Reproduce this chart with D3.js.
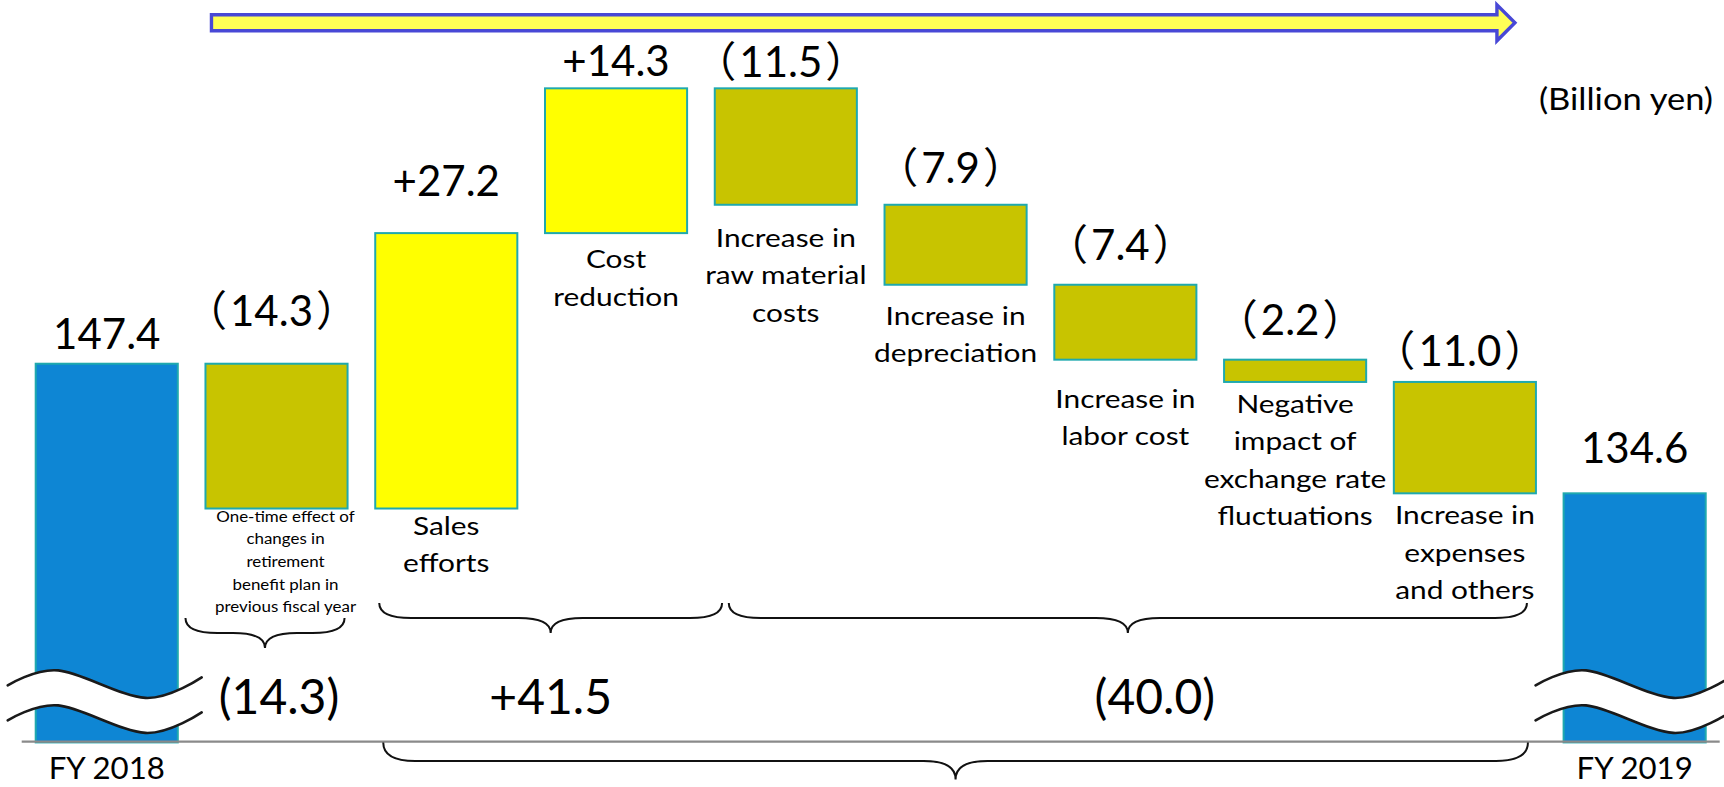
<!DOCTYPE html>
<html>
<head>
<meta charset="utf-8">
<script src="https://cdn.jsdelivr.net/npm/d3@7"></script>
<style>
  html, body { margin: 0; padding: 0; background: #ffffff; }
  svg { display: block; }
  text { font-family: Lato, "Noto Sans CJK JP", sans-serif; fill: #000; }
</style>
</head>
<body>
<svg id="chart" width="1724" height="787"></svg>
<script>
// Operating income bridge from FY 2018 to FY 2019 (billion yen)

const categories = ["fy2018", "retirement", "sales", "cost", "raw", "depreciation", "labor", "fx", "expenses", "fy2019"];
const categoryLines = [
  ["FY 2018"],
  ["One-time effect of", "changes in", "retirement", "benefit plan in", "previous fiscal year"],
  ["Sales", "efforts"],
  ["Cost", "reduction"],
  ["Increase in", "raw material", "costs"],
  ["Increase in", "depreciation"],
  ["Increase in", "labor cost"],
  ["Negative", "impact of", "exchange rate", "fluctuations"],
  ["Increase in", "expenses", "and others"],
  ["FY 2019"]
];
const barKinds = ["total", "delta", "delta", "delta", "delta", "delta", "delta", "delta", "delta", "total"];
const values   = [147.4, -14.3, 27.2, 14.3, -11.5, -7.9, -7.4, -2.2, -11.0, 134.6];

// Bracketed groups of factors (first and last category index)
const groupFirst = [1, 2, 4];
const groupLast  = [1, 3, 8];

const unitLabel = "(Billion yen)";
const axisFloor = 110;   // value where the broken axis meets the baseline

// ---- layout ----
const W = 1724, H = 787;
const valueLift = [15, 38, 37, 12, 11, 22, 25, 25, 16, 30];   // gap between bar top and value label
const nameDrop  = [37, 13, 26, 35, 42, 40, 48, 31, 31, 37];   // gap between bar bottom and first name line
const braceTop   = [618, 603, 603];
const braceInset = [[-20, -3], [4, 35], [14, -9]];              // brace ends relative to the bracketed bars
const groupShift = [14, 0, 27];                                 // group total label offset from the brace tip
const colors = { total: "#0e86d4", up: "#ffff00", down: "#c8c400", edge: "#1fa9ae" };

const svg = d3.select("#chart");

const x = d3.scaleBand().domain(categories).range([35.7, 1705.7]).paddingInner(0.163).paddingOuter(0);
const y = d3.scaleLinear().domain([axisFloor, 180]).range([742.4, 33.65]);
const bw = x.bandwidth();

// running totals for the waterfall
let run = 0;
const bars = categories.map((c, i) => {
  let lo, hi;
  if (barKinds[i] === "total") { lo = axisFloor; hi = values[i]; run = values[i]; }
  else { const s = run; run = run + values[i]; lo = Math.min(s, run); hi = Math.max(s, run); }
  return { c, i, lo, hi, v: values[i], kind: barKinds[i] };
});

const fmt = d3.format(".1f");

// ---- top arrow ----
{
  const xs = x(categories[1]) + 6, xe = x(categories[8]) + bw - 21;
  const hb = xe - 18, cy = 22.8;
  const pts = [[xs, cy - 8], [hb, cy - 8], [hb, cy - 18], [xe, cy], [hb, cy + 18], [hb, cy + 8], [xs, cy + 8]];
  svg.append("path")
    .attr("d", "M" + pts.map(p => p.join(",")).join("L") + "Z")
    .attr("fill", "#ffff55").attr("stroke", "#4848d6").attr("stroke-width", 3.4)
    .attr("stroke-linejoin", "miter");
}

// ---- bars ----
svg.append("g").selectAll("rect").data(bars).join("rect")
  .attr("x", d => x(d.c))
  .attr("y", d => y(d.hi))
  .attr("width", bw)
  .attr("height", d => y(d.lo) - y(d.hi))
  .attr("fill", d => d.kind === "total" ? colors.total : (d.v >= 0 ? colors.up : colors.down))
  .attr("stroke", colors.edge).attr("stroke-width", 2);

// ---- baseline ----
const [r0, r1] = x.range();
svg.append("line")
  .attr("x1", r0 - 14).attr("x2", r1 + 14)
  .attr("y1", y(axisFloor) - 0.7).attr("y2", y(axisFloor) - 0.7)
  .attr("stroke", "#8a8a8a").attr("stroke-width", 2.2);

// ---- axis break marks on the total bars ----
const waveW = 194, waveGap = 35;
const crestY = y(axisFloor) - 72;
const waveLine = d3.line().curve(d3.curveCardinal);
function wavePoints(x0) {
  return [[x0, crestY + 15], [x0 + 0.26 * waveW, crestY], [x0 + 0.71 * waveW, crestY + 27.5], [x0 + waveW, crestY + 7]];
}
bars.filter(b => b.kind === "total").forEach(b => {
  const x0 = x(b.c) - 28;
  const up = wavePoints(x0);
  const dn = up.map(p => [p[0], p[1] + waveGap]);
  const area = d3.area().curve(d3.curveCardinal).x(p => p[0]).y0(p => p[1]).y1(p => p[1] + waveGap);
  svg.append("path").attr("d", area(up)).attr("fill", "#fff");
  [up, dn].forEach(pp => svg.append("path").attr("d", waveLine(pp))
    .attr("fill", "none").attr("stroke", "#1a1a1a").attr("stroke-width", 2.6).attr("stroke-linecap", "round"));
});

// ---- braces ----
function bracePath(x0, x1, top, depth) {
  const xm = (x0 + x1) / 2, ym = top + depth / 2, tip = top + depth;
  const r = Math.min(32, (x1 - x0) / 4);
  return `M${x0},${top} Q${x0},${ym} ${x0 + r},${ym} L${xm - r},${ym} Q${xm},${ym} ${xm},${tip}` +
         ` Q${xm},${ym} ${xm + r},${ym} L${x1 - r},${ym} Q${x1},${ym} ${x1},${top}`;
}
const braceG = svg.append("g").attr("fill", "none").attr("stroke", "#111").attr("stroke-width", 2);
groupFirst.forEach((f, g) => {
  const l = groupLast[g];
  const x0 = x(categories[f]) + braceInset[g][0], x1 = x(categories[l]) + bw + braceInset[g][1];
  braceG.append("path").attr("d", bracePath(x0, x1, braceTop[g], 30));
  const sum = d3.sum(values.slice(f, l + 1));
  const label = sum >= 0 ? "+" + fmt(sum) : "(" + fmt(-sum) + ")";
  svg.append("text").attr("x", (x0 + x1) / 2 + groupShift[g]).attr("y", 714)
    .attr("text-anchor", "middle").attr("font-size", 48).text(label);
});
{
  const x0 = x(categories[2]) + 8, x1 = x(categories[8]) + bw - 8;
  braceG.append("path").attr("d", bracePath(x0, x1, y(axisFloor), 37));
}

// ---- value labels ----
const vl = svg.append("g").selectAll("text").data(bars).join("text")
  .attr("x", d => x(d.c) + bw / 2 + (d.v < 0 ? -5 : 0))
  .attr("y", d => y(d.hi) - valueLift[d.i])
  .attr("text-anchor", "middle")
  .attr("font-size", 42);
vl.each(function (d) {
  const t = d3.select(this);
  if (d.kind === "total") t.text(fmt(d.v));
  else if (d.v >= 0) t.text("+" + fmt(d.v));
  else {
    t.append("tspan").text("\uFF08");
    t.append("tspan").attr("dx", 3).text(fmt(-d.v));
    t.append("tspan").attr("dx", 3).text("\uFF09");
  }
});

// ---- category names ----
bars.forEach(b => {
  const small = b.i === 1;
  const fs = small ? 16 : (b.kind === "total" ? 30 : 25.5);
  const lh = small ? 22.7 : 37.5;
  const sx = small ? 1.06 : (b.kind === "total" ? 1.04 : 1.17);
  const cx = x(b.c) + bw / 2 + (small ? 9 : 0);
  const y0 = y(b.lo) + nameDrop[b.i];
  categoryLines[b.i].forEach((line, k) => {
    svg.append("text")
      .attr("transform", `translate(${cx},${y0 + k * lh}) scale(${sx},1)`)
      .attr("text-anchor", "middle").attr("font-size", fs).text(line);
  });
});

// ---- unit ----
svg.append("text")
  .attr("transform", `translate(${W - 11},110) scale(1.15,1)`)
  .attr("text-anchor", "end").attr("font-size", 30).text(unitLabel);
</script>
</body>
</html>
